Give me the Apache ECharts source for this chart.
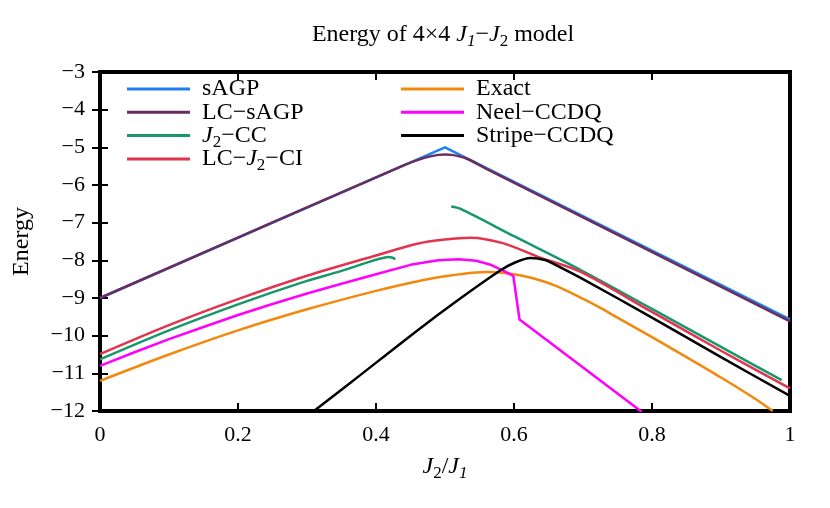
<!DOCTYPE html>
<html>
<head>
<meta charset="utf-8">
<script src="https://cdn.jsdelivr.net/npm/echarts@6/dist/echarts.min.js"></script>
<style>
  html, body { margin: 0; background: #fff; }
  #chart { width: 830px; height: 508px; }
</style>
</head>
<body>
<div id="chart"></div>
<script>
// data, [J2/J1, energy]
const sagp = [[0, -9.0], [0.5, -5.0], [1, -9.57]];
const lcSagp = [[0, -9.0], [0.44, -5.48], [0.47, -5.28], [0.49, -5.2], [0.5, -5.19], [0.51, -5.2],
  [0.53, -5.29], [0.56, -5.57], [1, -9.62]];
const j2cc = [[0, -10.63], [0.1, -9.86], [0.2, -9.17], [0.291, -8.6], [0.35, -8.28], [0.39, -8.04],
  [0.41, -7.94], [0.418, -7.91], [0.424, -7.93], [0.428, -7.97], [0.47, '-'],
  [0.509, -6.57], [0.522, -6.63], [0.6, -7.36], [0.696, -8.25], [0.8, -9.29], [0.9, -10.3], [0.988, -11.18]];
const lcJ2ci = [[0, -10.49], [0.1, -9.72], [0.2, -9.03], [0.3, -8.41], [0.4, -7.87], [0.46, -7.56],
  [0.5, -7.45], [0.537, -7.4], [0.585, -7.55], [0.634, -7.9], [0.696, -8.3], [0.8, -9.37],
  [0.9, -10.4], [1, -11.4]];
const exact = [[0, -11.2], [0.1, -10.5], [0.2, -9.86], [0.3, -9.3], [0.4, -8.81], [0.464, -8.54],
  [0.5, -8.42], [0.561, -8.31], [0.6, -8.37], [0.63, -8.49], [0.66, -8.67], [0.69, -8.93],
  [0.72, -9.21], [0.75, -9.52], [0.8, -10.04], [0.85, -10.57], [0.9, -11.11], [0.95, -11.68], [0.975, -12.0]];
const neelCcdq = [[0, -10.8], [0.05, -10.44], [0.1, -10.09], [0.15, -9.77], [0.2, -9.45], [0.25, -9.16],
  [0.3, -8.88], [0.35, -8.62], [0.4, -8.37], [0.45, -8.12], [0.49, -8.0], [0.52, -7.97],
  [0.545, -8.01], [0.565, -8.11], [0.585, -8.28], [0.599, -8.41], [0.608, -9.57], [0.785, -12.02]];
const stripeCcdq = [[0.31, -12.0], [0.363, -11.25], [0.46, -9.86], [0.52, -9.04], [0.58, -8.27],
  [0.6, -8.07], [0.624, -7.94], [0.645, -7.99], [0.658, -8.1], [0.696, -8.46], [0.8, -9.52],
  [0.9, -10.57], [1, -11.6]];

const xTicks = { min: 0, max: 1, interval: 0.2 };
const yTicks = { min: -12, max: -3, interval: 1 };

const font = 'Liberation Serif';
// rich styles: n = normal, i = italic, s / si = subscript.
// main text sits in a tall line box, the subscript hugs its bottom, so it drops below the baseline
const rich = (size) => {
  const lh = size + 7;
  const sub = { fontFamily: font, fontWeight: 'normal', fontSize: Math.round(size * 0.7),
    lineHeight: 4, verticalAlign: 'bottom', color: '#000' };
  return {
    n: { fontFamily: font, fontWeight: 'normal', fontSize: size, lineHeight: lh, color: '#000' },
    i: { fontFamily: font, fontWeight: 'normal', fontSize: size, lineHeight: lh, fontStyle: 'italic', color: '#000' },
    s: sub,
    si: Object.assign({}, sub, { fontStyle: 'italic' })
  };
};

// legend labels with italic J and subscripts
const legendLabels = {
  'J2−CC': '{i|J}{s|2}{n|−CC}',
  'LC−J2−CI': '{n|LC−}{i|J}{s|2}{n|−CI}'
};

const chart = echarts.init(document.getElementById('chart'));

const mkLine = (name, data, color, smooth) => ({
  name: name,
  type: 'line',
  data: data,
  symbol: 'none',
  smooth: smooth,
  clip: true,
  lineStyle: { color: color, width: 2.5 },
  itemStyle: { color: color }
});

const tickStyle = { show: true, inside: true, length: 8, lineStyle: { color: '#000', width: 2 } };
const legendBase = {
  orient: 'vertical',
  icon: 'rect',
  itemWidth: 63,
  itemHeight: 3,
  itemGap: 23.3 - 31,
  padding: 0,
  top: 89 - 15.5,
  selectedMode: false,
  formatter: (name) => legendLabels[name] || '{n|' + name + '}',
  textStyle: { fontFamily: font, fontSize: 24, lineHeight: 31, color: '#000', padding: [0, 0, 0, 7], rich: rich(24) }
};

chart.setOption({
  animation: false,
  backgroundColor: '#fff',
  title: {
    text: '{n|Energy of 4×4 }{i|J}{si|1}{n|−}{i|J}{s|2}{n| model}',
    left: 443,
    textAlign: 'center',
    top: 19,
    padding: 0,
    textStyle: { fontFamily: font, fontWeight: 'normal', fontSize: 24, lineHeight: 31, color: '#000', rich: rich(24) }
  },
  legend: [
    Object.assign({}, legendBase, { left: 127, data: ['sAGP', 'LC−sAGP', 'J2−CC', 'LC−J2−CI'] }),
    Object.assign({}, legendBase, { left: 401, data: ['Exact', 'Neel−CCDQ', 'Stripe−CCDQ'] })
  ],
  grid: {
    left: 100, right: 40, top: 72, bottom: 97,
    show: true, borderColor: '#000', borderWidth: 4, backgroundColor: 'transparent'
  },
  xAxis: [
    {
      type: 'value', ...xTicks,
      axisLine: { show: false }, splitLine: { show: false }, axisTick: tickStyle,
      axisLabel: { fontFamily: font, fontSize: 22, color: '#000', margin: 13 },
      name: '{i|J}{s|2}{n|/}{i|J}{si|1}',
      nameLocation: 'middle',
      nameGap: 38,
      nameTextStyle: { fontFamily: font, fontSize: 24, lineHeight: 31, rich: rich(24) }
    },
    {
      type: 'value', position: 'top', ...xTicks,
      axisLine: { show: false }, splitLine: { show: false }, axisTick: tickStyle,
      axisLabel: { show: false }
    }
  ],
  yAxis: [
    {
      type: 'value', ...yTicks,
      axisLine: { show: false }, splitLine: { show: false }, axisTick: tickStyle,
      axisLabel: {
        fontFamily: font, fontSize: 22, color: '#000', margin: 15,
        formatter: (v) => (v < 0 ? '−' + Math.abs(v) : String(v))
      },
      name: 'Energy',
      nameLocation: 'middle',
      nameRotate: 90,
      nameGap: 66,
      nameTextStyle: { fontFamily: font, fontSize: 24, color: '#000' }
    },
    {
      type: 'value', position: 'right', ...yTicks,
      axisLine: { show: false }, splitLine: { show: false }, axisTick: tickStyle,
      axisLabel: { show: false }
    }
  ],
  series: [
    mkLine('sAGP', sagp, '#1e7ff2', false),
    mkLine('LC−sAGP', lcSagp, '#6b2d5f', 0.3),
    mkLine('J2−CC', j2cc, '#16986a', 0.3),
    mkLine('LC−J2−CI', lcJ2ci, '#e2344f', 0.3),
    mkLine('Exact', exact, '#f2880c', 0.3),
    mkLine('Neel−CCDQ', neelCcdq, '#ff00ff', false),
    mkLine('Stripe−CCDQ', stripeCcdq, '#000000', 0.3)
  ]
});
</script>
</body>
</html>
